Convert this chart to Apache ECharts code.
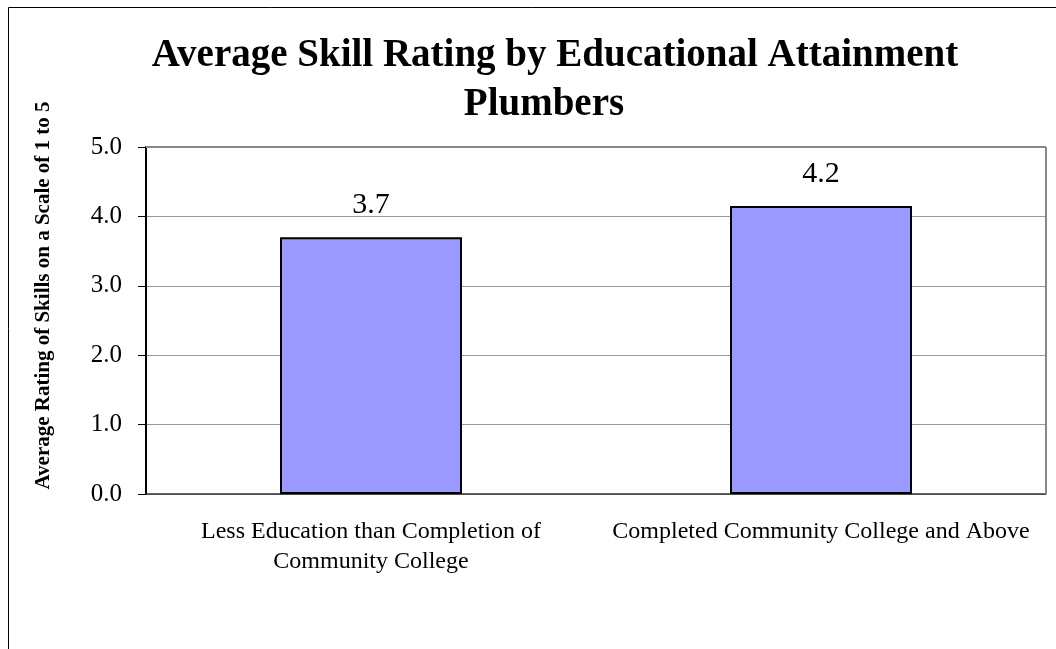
<!DOCTYPE html>
<html><head><meta charset="utf-8">
<script src="https://cdn.jsdelivr.net/npm/echarts@6/dist/echarts.min.js"></script>
<style>html,body{margin:0;padding:0;background:#fff}#c{width:1056px;height:649px}</style>
</head><body><div id="c"></div>
<script>
const titleLines = ['Average Skill Rating by Educational Attainment', 'Plumbers'];
const yAxisTitle = 'Average Rating of Skills on a Scale of 1 to 5';
const categories = ['Less Education than Completion of\nCommunity College', 'Completed Community College and Above'];
const values = [3.7, 4.15];
const yMin = 0, yMax = 5, yStep = 1;

const serif = '"Liberation Serif", "Times New Roman", serif';
const titleStyle = {fontFamily: serif, fontWeight: 'bold', fontSize: 39, lineHeight: 47, color: '#000'};
const chart = echarts.init(document.getElementById('c'), null, {renderer: 'canvas'});
chart.setOption({
  backgroundColor: '#fff',
  animation: false,
  title: [
    {text: titleLines[0], left: 550, top: 27, textAlign: 'center', textStyle: titleStyle},
    {text: titleLines[1], left: 539, top: 76, textAlign: 'center', textStyle: titleStyle}
  ],
  graphic: [
    {type: 'rect', shape: {x: 8.5, y: 7.5, width: 1200, height: 800}, style: {fill: 'none', stroke: '#000', lineWidth: 1}, z: -1},
    {type: 'line', shape: {x1: 146, y1: 147, x2: 1046, y2: 147}, style: {stroke: '#888', lineWidth: 2}, z: 5},
    {type: 'line', shape: {x1: 1046, y1: 147, x2: 1046, y2: 494}, style: {stroke: '#888', lineWidth: 2}, z: 5}
  ],
  grid: {left: 146, top: 147, width: 900, height: 347, containLabel: false},
  xAxis: {
    type: 'category', data: categories,
    axisLine: {lineStyle: {color: '#333', width: 1.5}},
    axisTick: {show: false},
    axisLabel: {fontFamily: serif, fontSize: 24, color: '#000', margin: 23, lineHeight: 30, interval: 0}
  },
  yAxis: {
    type: 'value', min: yMin, max: yMax, interval: yStep,
    name: yAxisTitle, nameLocation: 'middle', nameGap: 92, nameRotate: 90,
    nameTextStyle: {fontFamily: serif, fontWeight: 'bold', fontSize: 21, color: '#000', padding: [0, 0, 0, 50]},
    axisLine: {show: true, lineStyle: {color: '#000', width: 2}},
    axisTick: {show: true, length: 8, lineStyle: {color: '#000'}},
    axisLabel: {fontFamily: serif, fontSize: 25, color: '#000', margin: 24, formatter: v => v.toFixed(1)},
    splitLine: {show: true, lineStyle: {color: '#999', width: 1}}
  },
  series: [{
    type: 'bar', data: values, barWidth: 182,
    itemStyle: {color: '#9999FF', borderColor: '#000', borderWidth: 2},
    label: {show: true, position: 'top', distance: 17, fontFamily: serif, fontSize: 30, color: '#000',
      formatter: p => p.value.toFixed(1)}
  }]
});
</script></body></html>
